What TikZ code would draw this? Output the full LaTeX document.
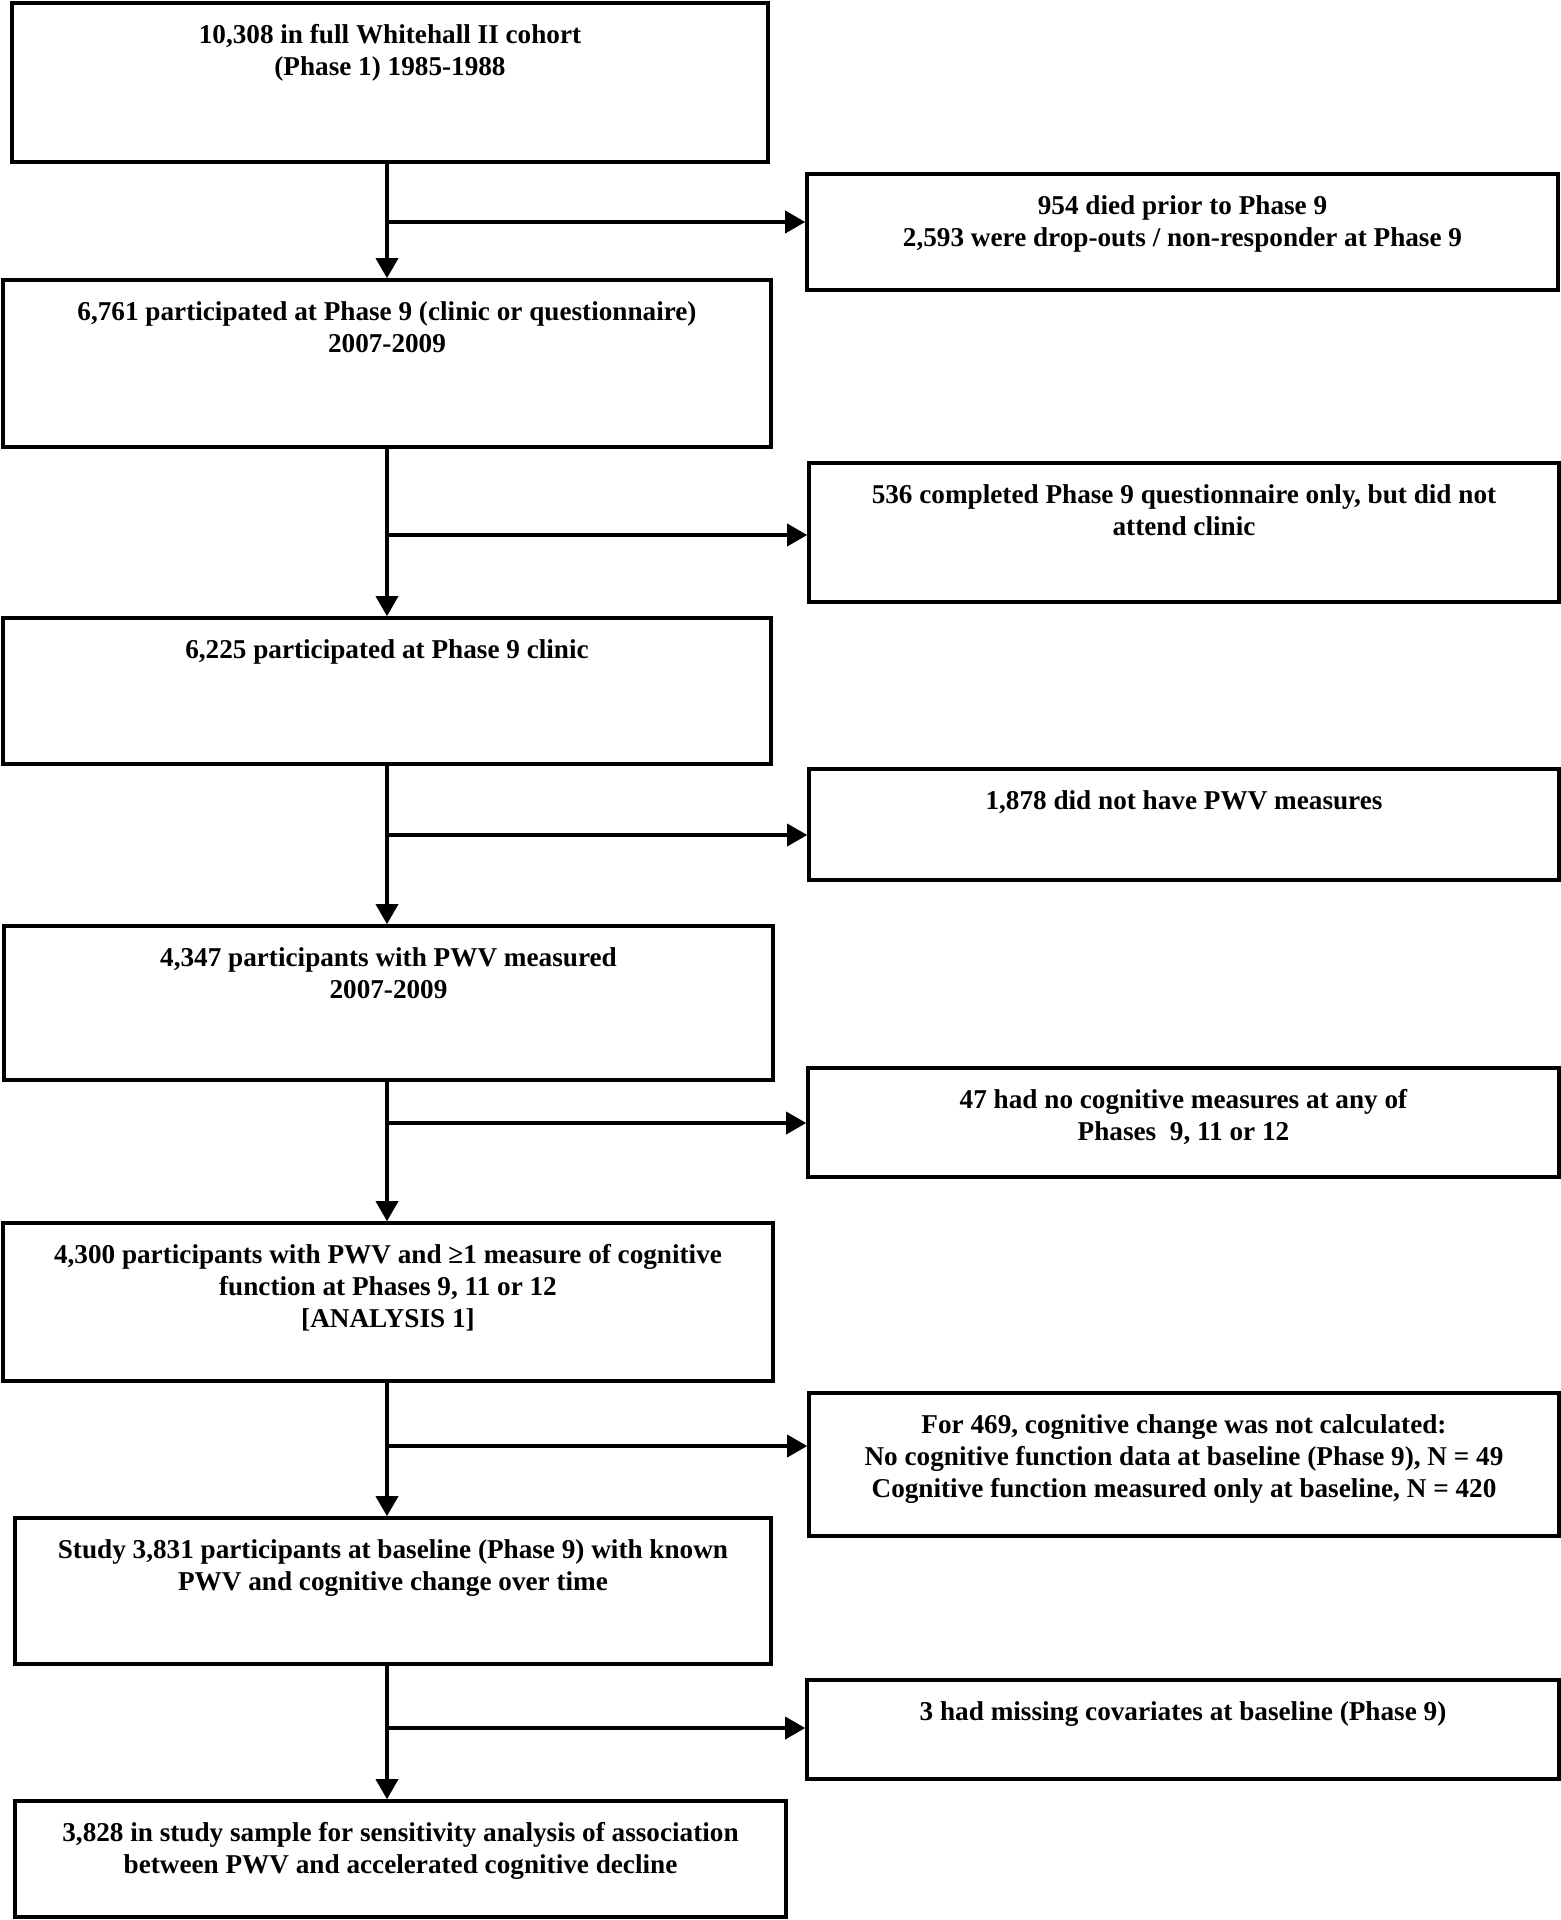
\documentclass[tikz,border=0pt]{standalone}
\usepackage{fontspec}
\setmainfont{Liberation Serif}
\usetikzlibrary{arrows.meta,fit}
\begin{document}
\begin{tikzpicture}[x=0.5pt,y=-0.5pt,
  box/.style={draw, line width=1.8pt, inner sep=0pt},
  txt/.style={align=center, inner sep=0pt, font=\bfseries\fontsize{13.6pt}{16pt}\selectfont},
  arr/.style={line width=1.8pt, -{Triangle[length=10pt,width=11pt]}}]
\useasboundingbox (0,0) rectangle (1560,1920);
% left column boxes
\node[box, fit={(12,3) (768,162)}] (b1) {};
\node[box, fit={(3,280) (771,447)}] (b2) {};
\node[box, fit={(3,618) (771,764)}] (b3) {};
\node[box, fit={(4,926) (773,1080)}] (b4) {};
\node[box, fit={(3,1223) (773,1381)}] (b5) {};
\node[box, fit={(15,1518) (771,1664)}] (b6) {};
\node[box, fit={(15,1801) (786,1917)}] (b7) {};
% right column boxes
\node[box, fit={(807,174) (1558,290)}] (r1) {};
\node[box, fit={(809,463) (1559,602)}] (r2) {};
\node[box, fit={(809,769) (1559,880)}] (r3) {};
\node[box, fit={(808,1068) (1559,1177)}] (r4) {};
\node[box, fit={(809,1393) (1559,1536)}] (r5) {};
\node[box, fit={(807,1680) (1559,1779)}] (r6) {};
% texts
\node[txt, anchor=north] (t1) at ([yshift=-11.5pt]b1.north) {10,308 in full Whitehall II cohort\\(Phase 1) 1985-1988};
\node[txt, anchor=north] (t2) at ([yshift=-11.5pt]b2.north) {6,761 participated at Phase 9 (clinic or questionnaire)\\2007-2009};
\node[txt, anchor=north] (t3) at ([yshift=-11.5pt]b3.north) {6,225 participated at Phase 9 clinic};
\node[txt, anchor=north] (t4) at ([yshift=-11.5pt]b4.north) {4,347 participants with PWV measured\\2007-2009};
\node[txt, anchor=north] (t5) at ([yshift=-11.5pt]b5.north) {4,300 participants with PWV and ≥1 measure of cognitive\\function at Phases 9, 11 or 12\\{[ANALYSIS 1]}};
\node[txt, anchor=north] (t6) at ([yshift=-11.5pt]b6.north) {Study 3,831 participants at baseline (Phase 9) with known\\PWV and cognitive change over time};
\node[txt, anchor=north] (t7) at ([yshift=-11.5pt]b7.north) {3,828 in study sample for sensitivity analysis of association\\between PWV and accelerated cognitive decline};
\node[txt, anchor=north] (s1) at ([yshift=-11.5pt]r1.north) {954 died prior to Phase 9\\2,593 were drop-outs / non-responder at Phase 9};
\node[txt, anchor=north] (s2) at ([yshift=-11.5pt]r2.north) {536 completed Phase 9 questionnaire only, but did not\\attend clinic};
\node[txt, anchor=north] (s3) at ([yshift=-11.5pt]r3.north) {1,878 did not have PWV measures};
\node[txt, anchor=north] (s4) at ([yshift=-11.5pt]r4.north) {47 had no cognitive measures at any of\\Phases~ 9, 11 or 12};
\node[txt, anchor=north] (s5) at ([yshift=-11.5pt]r5.north) {For 469, cognitive change was not calculated:\\No cognitive function data at baseline (Phase 9), N = 49\\Cognitive function measured only at baseline, N = 420};
\node[txt, anchor=north] (s6) at ([yshift=-11.5pt]r6.north) {3 had missing covariates at baseline (Phase 9)};
% spine coordinates
\coordinate (sp) at (387,0);
\coordinate (j1) at (387,222);
\coordinate (j2) at (387,535);
\coordinate (j3) at (387,835);
\coordinate (j4) at (387,1123);
\coordinate (j5) at (387,1446);
\coordinate (j6) at (387,1728);
% connectors
\draw[arr] (b1.south -| sp) -- (b2.north -| sp);
\draw[arr] (b2.south -| sp) -- (b3.north -| sp);
\draw[arr] (b3.south -| sp) -- (b4.north -| sp);
\draw[arr] (b4.south -| sp) -- (b5.north -| sp);
\draw[arr] (b5.south -| sp) -- (b6.north -| sp);
\draw[arr] (b6.south -| sp) -- (b7.north -| sp);
\draw[arr] (j1) -- (j1 -| r1.west);
\draw[arr] (j2) -- (j2 -| r2.west);
\draw[arr] (j3) -- (j3 -| r3.west);
\draw[arr] (j4) -- (j4 -| r4.west);
\draw[arr] (j5) -- (j5 -| r5.west);
\draw[arr] (j6) -- (j6 -| r6.west);
\end{tikzpicture}
\end{document}
